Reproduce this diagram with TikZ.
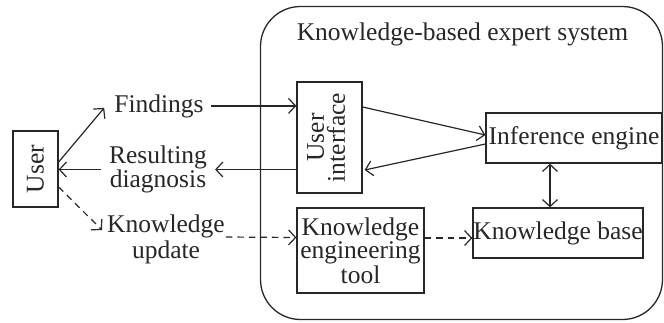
\documentclass[tikz,border=0pt]{standalone}
\usepackage{fontspec}
\setmainfont{Liberation Serif}
\usetikzlibrary{arrows.meta,calc}
\definecolor{ink}{RGB}{40,38,38}
\tikzset{
  base/.style={font=\fontsize{25.5}{23}\selectfont, text=ink},
  box/.style={base, draw=ink, line width=1.3pt, inner sep=0pt, align=center},
  lbl/.style={base, inner sep=0pt, align=center},
  tip/.tip={Straight Barb[length=7pt,width=15pt,line width=1.2pt]},
  arr/.style={draw=ink, line width=1.2pt, -tip},
  darr/.style={arr, dash pattern=on 6.5pt off 5pt},
  dbl/.style={draw=ink, line width=1.2pt, tip-tip}
}
\begin{document}
\begin{tikzpicture}[x=1pt,y=-1pt]
\useasboundingbox (0,0) rectangle (664,322);
% system frame
\node[draw=ink, line width=1.3pt, rounded corners=40pt, minimum width=402pt, minimum height=313pt, inner sep=0pt] (sys) at (461.5,163) {};
\node[lbl, anchor=base] (title) at (462.5,40) {Knowledge-based expert system};
% boxes
\node[box, minimum width=45pt, minimum height=76pt] (user) at (35.5,169) {\rotatebox{90}{User}};
\node[box, minimum width=65pt, minimum height=111pt] (ui) at (329.5,137.5) {\rotatebox{90}{\begin{tabular}{@{}c@{}}User\\[-4pt]interface\end{tabular}}};
\node[box, minimum width=176pt, minimum height=50pt] (ie) at (574,138) {Inference engine};
\node[box, minimum width=127pt, minimum height=85pt, font=\fontsize{25.5}{21}\selectfont] (ket) at (360.5,250.5) {Knowledge\\engineering\\tool};
\node[box, minimum width=170pt, minimum height=50pt] (kb) at (558,233) {Knowledge base};
% labels
\node[lbl, anchor=base] (find) at (159,112) {Findings};
\node[lbl] (diag) at (158,169.5) {Resulting\\diagnosis};
\node[lbl, font=\fontsize{25.5}{26}\selectfont] (kupd) at (166,239) {Knowledge\\update};
% connectors
\draw[arr] ([yshift=7pt]user.east) -- ([xshift=-10pt,yshift=-2pt]find.west);
\draw[arr] ([xshift=7pt]find.east) -- (find -| ui.west);
\draw[arr] (diag -| ui.west) -- ([xshift=8pt]diag.east);
\draw[arr] ([xshift=-8pt]diag.west) -- (diag -| user.east);
\draw[darr] ([yshift=-18pt]user.east) -- ([xshift=-5pt,yshift=9pt]kupd.west);
\draw[darr] ([xshift=1pt,yshift=2pt]kupd.east) -- ([yshift=13pt]ket.west);
\draw[darr] ([yshift=12.5pt]ket.east) -- ([yshift=-5pt]kb.west);
\draw[arr] ([yshift=30.5pt]ui.east) -- ([yshift=3pt]ie.west);
\draw[arr] ([yshift=-6pt]ie.west) -- ([xshift=2pt,yshift=-32.5pt]ui.east);
\draw[dbl] ([xshift=-24pt]ie.south) -- ([xshift=-8pt]kb.north);
\end{tikzpicture}
\end{document}
